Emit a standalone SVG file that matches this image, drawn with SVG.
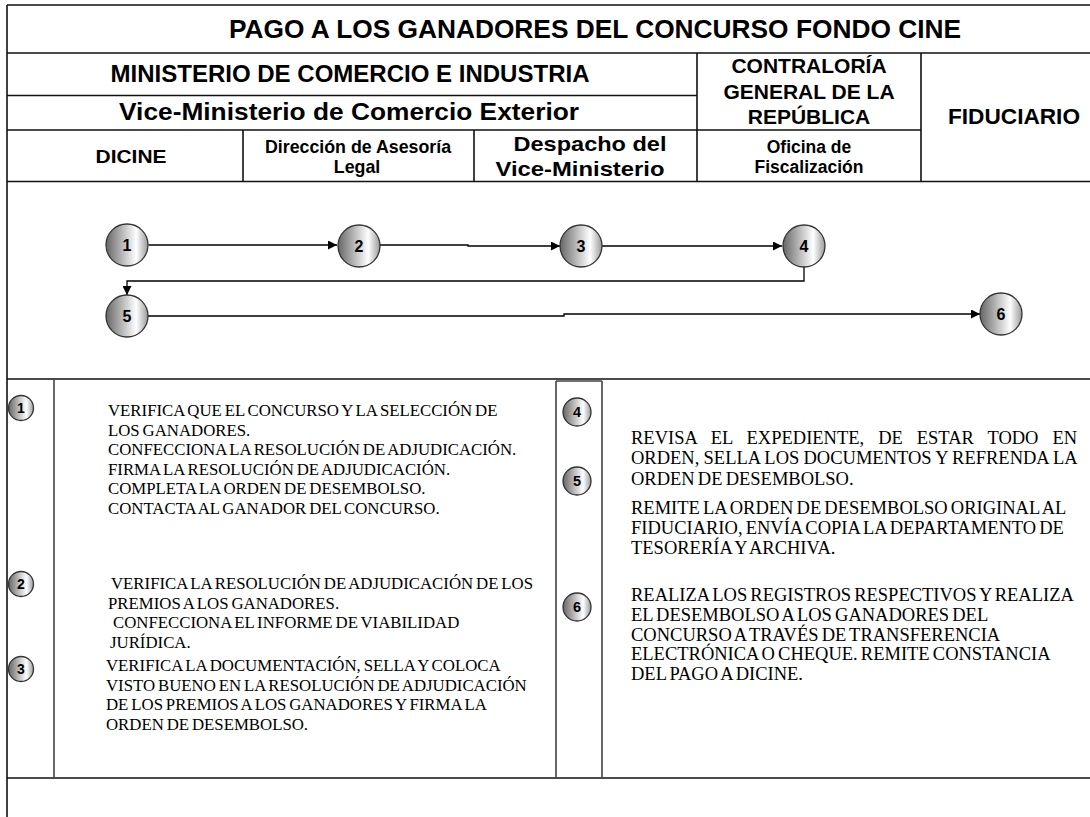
<svg xmlns="http://www.w3.org/2000/svg" width="1090" height="817" viewBox="0 0 1090 817">
<defs>
<linearGradient id="ball" x1="0" y1="0" x2="1" y2="0">
<stop offset="0" stop-color="#666"/>
<stop offset="0.72" stop-color="#fff"/>
<stop offset="1" stop-color="#999"/>
</linearGradient>
<marker id="arr" viewBox="0 0 10 10" refX="10" refY="5" markerWidth="9" markerHeight="9" markerUnits="userSpaceOnUse" orient="auto">
<path d="M0,0 L10,5 L0,10 z" fill="#000"/>
</marker>
<style>
.ln{stroke:#111;stroke-width:1.6;fill:none}
.lg{stroke:#444;stroke-width:1.6;fill:none}
.h{font-family:"Liberation Sans",Arial,sans-serif;font-weight:bold;fill:#000;text-anchor:middle}
.ball{fill:url(#ball);stroke:#333;stroke-width:1.3}
.num{font-family:"Liberation Sans",Arial,sans-serif;font-weight:bold;fill:#000;text-anchor:middle}
.con{stroke:#000;stroke-width:1.3;fill:none}
.t{font-family:"Liberation Serif","Times New Roman",serif;font-size:16.8px;fill:#000;word-spacing:-1.3px}
.tr{font-family:"Liberation Serif","Times New Roman",serif;font-size:18.5px;fill:#000;word-spacing:-1.5px}
</style>
</defs>
<rect width="1090" height="817" fill="#fff"/>

<g id="header">
<path class="ln" d="M7,5 H1090 M7,53 H1090 M7,95.5 H697 M7,130 H921 M7,181.5 H1090 M7,5 V817 M243,130 V181.5 M474,130 V181.5 M697,53 V181.5 M921,53 V181.5"/>
<text class="h" x="595" y="38" font-size="26.3">PAGO A LOS GANADORES DEL CONCURSO FONDO CINE</text>
<text class="h" x="350" y="82" font-size="24" textLength="479" lengthAdjust="spacingAndGlyphs">MINISTERIO DE COMERCIO E INDUSTRIA</text>
<text class="h" x="349" y="120" font-size="24" textLength="460" lengthAdjust="spacingAndGlyphs">Vice-Ministerio de Comercio Exterior</text>
<text class="h" x="131" y="163" font-size="19" textLength="71" lengthAdjust="spacingAndGlyphs">DICINE</text>
<text class="h" x="358" y="153" font-size="17.8">Dirección de Asesoría</text>
<text class="h" x="357" y="173" font-size="17.8">Legal</text>
<text class="h" x="590" y="151" font-size="21" textLength="153" lengthAdjust="spacingAndGlyphs">Despacho del</text>
<text class="h" x="580" y="176" font-size="21" textLength="169" lengthAdjust="spacingAndGlyphs">Vice-Ministerio</text>
<text class="h" x="809" y="73" font-size="21">CONTRALORÍA</text>
<text class="h" x="809" y="99" font-size="21">GENERAL DE LA</text>
<text class="h" x="809" y="124" font-size="21">REPÚBLICA</text>
<text class="h" x="809" y="153" font-size="17.5">Oficina de</text>
<text class="h" x="809" y="173" font-size="17.5">Fiscalización</text>
<text class="h" x="1014" y="124" font-size="21.5" textLength="132" lengthAdjust="spacingAndGlyphs">FIDUCIARIO</text>
</g>

<g id="connectors">
<path class="con" d="M148.5,245 H337" marker-end="url(#arr)"/>
<path class="con" d="M380,245 H468 V246 H560" marker-end="url(#arr)"/>
<path class="con" d="M602,246 H782" marker-end="url(#arr)"/>
<path class="con" d="M804,267 V281 H127 V295" marker-end="url(#arr)"/>
<path class="con" d="M148,316 H564 V314 H980" marker-end="url(#arr)"/>
</g>

<g id="node-1"><circle class="ball" cx="127" cy="245" r="21"/><text class="num" x="127" y="251" font-size="16">1</text></g>
<g id="node-2"><circle class="ball" cx="359" cy="246" r="21"/><text class="num" x="359" y="252" font-size="16">2</text></g>
<g id="node-3"><circle class="ball" cx="581" cy="246" r="21"/><text class="num" x="581" y="252" font-size="16">3</text></g>
<g id="node-4"><circle class="ball" cx="804" cy="246" r="21"/><text class="num" x="804" y="252" font-size="16">4</text></g>
<g id="node-5"><circle class="ball" cx="127" cy="316" r="21"/><text class="num" x="127" y="322" font-size="16">5</text></g>
<g id="node-6"><circle class="ball" cx="1001" cy="314" r="21"/><text class="num" x="1001" y="320" font-size="16">6</text></g>

<g id="descriptions">
<path class="ln" d="M7,379 H1090 M7,778 H1090"/>
<path class="lg" d="M54,379 V778 M556,381 H602 M556,381 V778 M602,381 V778"/>

<g id="step-1">
<circle class="ball" cx="21" cy="408" r="12.5"/><text class="num" x="21" y="413" font-size="14">1</text>
<text class="t"><tspan x="108" y="416">VERIFICA QUE EL CONCURSO Y LA SELECCIÓN DE</tspan><tspan x="108" y="435.6">LOS GANADORES.</tspan><tspan x="108" y="455.2">CONFECCIONA LA RESOLUCIÓN DE ADJUDICACIÓN.</tspan><tspan x="108" y="474.8">FIRMA LA RESOLUCIÓN DE ADJUDICACIÓN.</tspan><tspan x="108" y="494.4">COMPLETA LA ORDEN DE DESEMBOLSO.</tspan><tspan x="108" y="514">CONTACTA AL GANADOR DEL CONCURSO.</tspan></text>
</g>
<g id="step-2">
<circle class="ball" cx="21" cy="584" r="12.5"/><text class="num" x="21" y="589" font-size="14">2</text>
<text class="t"><tspan x="111" y="589">VERIFICA LA RESOLUCIÓN DE ADJUDICACIÓN DE LOS</tspan><tspan x="108" y="608.6">PREMIOS A LOS GANADORES.</tspan><tspan x="113" y="628.2">CONFECCIONA EL INFORME DE VIABILIDAD</tspan><tspan x="110" y="647.8">JURÍDICA.</tspan></text>
</g>
<g id="step-3">
<circle class="ball" cx="21" cy="669" r="12.5"/><text class="num" x="21" y="674" font-size="14">3</text>
<text class="t"><tspan x="106" y="671">VERIFICA LA DOCUMENTACIÓN, SELLA Y COLOCA</tspan><tspan x="106" y="690.6">VISTO BUENO EN LA RESOLUCIÓN DE ADJUDICACIÓN</tspan><tspan x="106" y="710.2">DE LOS PREMIOS A LOS GANADORES Y FIRMA LA</tspan><tspan x="106" y="729.8">ORDEN DE DESEMBOLSO.</tspan></text>
</g>
<g id="step-4">
<circle class="ball" cx="577" cy="412" r="14"/><text class="num" x="577" y="417" font-size="14.5">4</text>
<text class="tr"><tspan x="631" y="443.5" word-spacing="9.3">REVISA EL EXPEDIENTE, DE ESTAR TODO EN</tspan><tspan x="631" y="464" word-spacing="-0.4">ORDEN, SELLA LOS DOCUMENTOS Y REFRENDA LA</tspan><tspan x="631" y="484.5">ORDEN DE DESEMBOLSO.</tspan></text>
</g>
<g id="step-5">
<circle class="ball" cx="577" cy="481" r="14"/><text class="num" x="577" y="486" font-size="14.5">5</text>
<text class="tr"><tspan x="631" y="513.5">REMITE LA ORDEN DE DESEMBOLSO ORIGINAL AL</tspan><tspan x="631" y="533.5">FIDUCIARIO, ENVÍA COPIA LA DEPARTAMENTO DE</tspan><tspan x="631" y="553.5">TESORERÍA Y ARCHIVA.</tspan></text>
</g>
<g id="step-6">
<circle class="ball" cx="577" cy="607" r="14"/><text class="num" x="577" y="612" font-size="14.5">6</text>
<text class="tr"><tspan x="631" y="600.5">REALIZA LOS REGISTROS RESPECTIVOS Y REALIZA</tspan><tspan x="631" y="620.5">EL DESEMBOLSO A LOS GANADORES DEL</tspan><tspan x="631" y="640.5">CONCURSO A TRAVÉS DE TRANSFERENCIA</tspan><tspan x="631" y="660">ELECTRÓNICA O CHEQUE. REMITE CONSTANCIA</tspan><tspan x="631" y="679.5">DEL PAGO A DICINE.</tspan></text>
</g>
</g>
</svg>
